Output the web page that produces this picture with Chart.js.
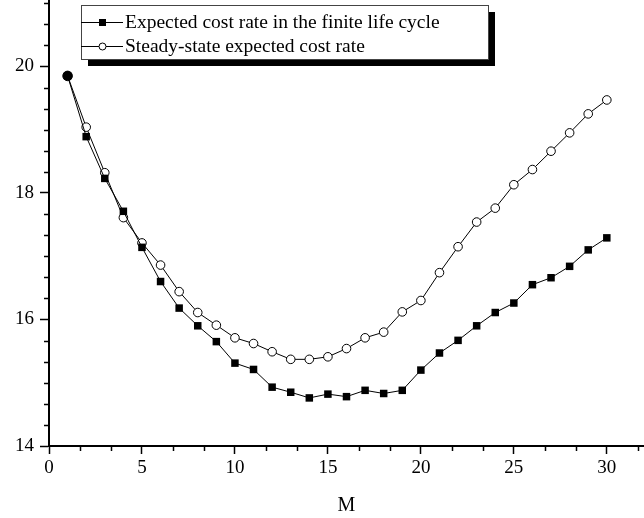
<!DOCTYPE html>
<html>
<head>
<meta charset="utf-8">
<script src="https://cdn.jsdelivr.net/npm/chart.js"></script>
<style>
  body { margin: 0; background: #fff; }
  #wrap { width: 644px; height: 518px; }
</style>
</head>
<body>
<div id="wrap"><canvas id="myChart" width="644" height="518"></canvas></div>
<script>
var mValues = [1, 2, 3, 4, 5, 6, 7, 8, 9, 10, 11, 12, 13, 14, 15, 16, 17, 18, 19, 20, 21, 22, 23, 24, 25, 26, 27, 28, 29, 30];
var finiteCost = [19.85, 18.89, 18.23, 17.71, 17.14, 16.60, 16.18, 15.90, 15.65, 15.31, 15.21, 14.93, 14.85, 14.76, 14.82,
  14.78, 14.88, 14.83, 14.88, 15.20, 15.47, 15.67, 15.90, 16.11, 16.26, 16.55, 16.66, 16.84, 17.10, 17.29];
var steadyCost = [19.85, 19.04, 18.32, 17.61, 17.21, 16.86, 16.44, 16.11, 15.91, 15.71, 15.62, 15.49, 15.37, 15.37, 15.41,
  15.54, 15.71, 15.80, 16.12, 16.30, 16.74, 17.15, 17.54, 17.76, 18.13, 18.37, 18.66, 18.95, 19.25, 19.47];
var seriesNames = ['Expected cost rate in the finite life cycle', 'Steady-state expected cost rate'];
var xTickLabels = [0, 5, 10, 15, 20, 25, 30];
var yTickLabels = [14, 16, 18, 20];
var xTitle = 'M';

var FONT = "'Liberation Serif', 'Times New Roman', serif";

function near(v, list) {
  for (var i = 0; i < list.length; i++) {
    if (Math.abs(v - list[i]) < 1e-6) return true;
  }
  return false;
}

function toPoints(ys) {
  return mValues.map(function(m, i) { return { x: m, y: ys[i] }; });
}

// short minor ticks, drawn after the axes
var minorTicks = {
  id: 'minorTicks',
  afterDraw: function(chart) {
    var c = chart.ctx;
    c.save();
    c.strokeStyle = '#000';
    c.lineWidth = 1.5;
    var xs = chart.scales.x, ys = chart.scales.y;
    xs.ticks.forEach(function(t) {
      if (near(t.value, xTickLabels)) return;
      var px = Math.round(xs.getPixelForValue(t.value)) + 0.5;
      c.beginPath(); c.moveTo(px, xs.top); c.lineTo(px, xs.top + 5); c.stroke();
    });
    ys.ticks.forEach(function(t) {
      if (near(t.value, yTickLabels)) return;
      var py = Math.round(ys.getPixelForValue(t.value)) + 0.5;
      c.beginPath(); c.moveTo(ys.right, py); c.lineTo(ys.right - 5, py); c.stroke();
    });
    c.restore();
  }
};

// boxed legend with a drop shadow
var boxLegend = {
  id: 'boxLegend',
  afterDraw: function(chart) {
    var c = chart.ctx;
    var left = 81, top = 5, w = 407, h = 54;
    c.save();
    c.fillStyle = '#000';
    c.fillRect(left + 7, top + 7, w, h);
    c.fillStyle = '#fff';
    c.fillRect(left, top, w, h);
    c.strokeStyle = '#444';
    c.lineWidth = 1;
    c.strokeRect(left + 0.5, top + 0.5, w, h);
    c.font = '19.5px ' + FONT;
    c.textBaseline = 'middle';
    chart.data.datasets.forEach(function(ds, i) {
      var y = top + 17 + i * 24;
      c.strokeStyle = '#000';
      c.lineWidth = 1;
      c.beginPath(); c.moveTo(left, y + 0.5); c.lineTo(left + 42, y + 0.5); c.stroke();
      if (ds.pointStyle === 'rect') {
        c.fillStyle = '#000';
        c.fillRect(left + 18, y - 3, 7, 7);
      } else {
        c.fillStyle = '#fff';
        c.beginPath(); c.arc(left + 21.5, y + 0.5, 3.5, 0, Math.PI * 2); c.fill(); c.stroke();
      }
      c.fillStyle = '#000';
      c.fillText(ds.label, left + 44, y + 1);
    });
    c.restore();
  }
};

var ctx = document.getElementById('myChart').getContext('2d');
var chart = new Chart(ctx, {
  type: 'line',
  data: {
    datasets: [{
      label: seriesNames[0],
      data: toPoints(finiteCost),
      borderColor: '#000',
      borderWidth: 1,
      backgroundColor: '#000',
      pointStyle: 'rect',
      pointRadius: 5.3,
      pointBorderWidth: 0,
      pointBackgroundColor: '#000',
      tension: 0,
      fill: false
    }, {
      label: seriesNames[1],
      data: toPoints(steadyCost),
      borderColor: '#000',
      borderWidth: 1,
      backgroundColor: '#fff',
      pointStyle: 'circle',
      pointRadius: function(c) { return c.dataIndex === 0 ? 4.8 : 4.3; },
      pointBorderWidth: 1,
      pointBorderColor: '#000',
      pointBackgroundColor: function(c) { return c.dataIndex === 0 ? '#000' : '#fff'; },
      tension: 0,
      fill: false
    }]
  },
  options: {
    responsive: false,
    animation: false,
    layout: { padding: 0, autoPadding: false },
    plugins: {
      legend: { display: false },
      tooltip: { enabled: false }
    },
    scales: {
      x: {
        type: 'linear',
        min: 0,
        max: 32,
        afterBuildTicks: function(scale) {
          var t = [];
          for (var i = 0; i <= 19; i++) t.push({ value: i * 5 / 3 });
          scale.ticks = t;
        },
        afterFit: function(scale) {
          scale.height = 72;
          scale.paddingLeft = 0;
          scale.paddingRight = 0;
        },
        border: { display: true, color: '#000', width: 2 },
        grid: {
          drawOnChartArea: false,
          drawTicks: true,
          tickLength: 8,
          tickWidth: 1.5,
          tickColor: function(c) { return c.tick && near(c.tick.value, xTickLabels) ? '#000' : 'rgba(0,0,0,0)'; }
        },
        ticks: {
          autoSkip: false,
          maxRotation: 0,
          padding: 3,
          color: '#000',
          font: { family: FONT, size: 19 },
          callback: function(v) { return near(v, xTickLabels) ? String(Math.round(v)) : ''; }
        },
        title: {
          display: true,
          text: xTitle,
          color: '#000',
          font: { family: FONT, size: 20 },
          padding: { top: 0, bottom: 0 }
        }
      },
      y: {
        type: 'linear',
        min: 14,
        max: 21.05,
        afterBuildTicks: function(scale) {
          var t = [];
          for (var i = 0; i <= 21; i++) t.push({ value: 14 + i / 3 });
          scale.ticks = t;
        },
        afterFit: function(scale) {
          scale.width = 49;
          scale.paddingTop = 0;
          scale.paddingBottom = 0;
        },
        border: { display: true, color: '#000', width: 2 },
        grid: {
          drawOnChartArea: false,
          drawTicks: true,
          tickLength: 9,
          tickWidth: 1.5,
          tickColor: function(c) { return c.tick && near(c.tick.value, yTickLabels) ? '#000' : 'rgba(0,0,0,0)'; }
        },
        ticks: {
          autoSkip: false,
          padding: 6,
          color: '#000',
          font: { family: FONT, size: 19 },
          callback: function(v) { return near(v, yTickLabels) ? String(Math.round(v)) : ''; }
        }
      }
    }
  },
  plugins: [minorTicks, boxLegend]
});
</script>
</body>
</html>
